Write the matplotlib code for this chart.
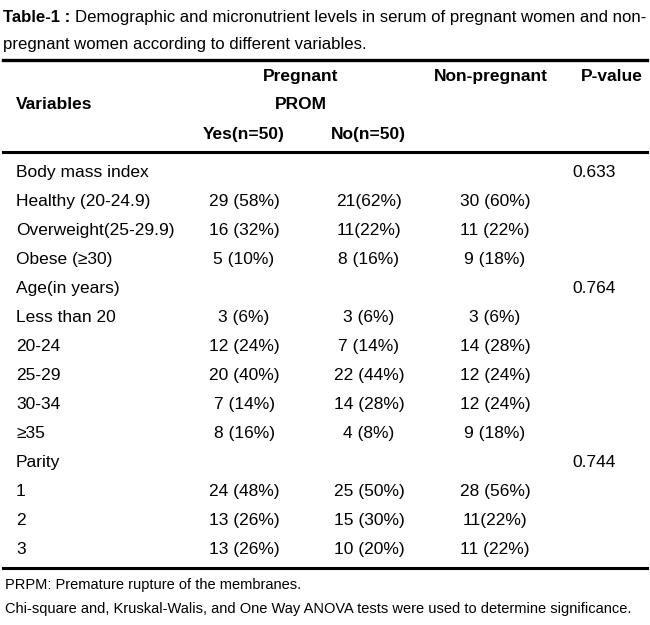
import matplotlib.pyplot as plt
from matplotlib.lines import Line2D

plt.rcParams["font.family"] = ["Liberation Sans", "DejaVu Sans"]

row_labels = [
    "Body mass index", "Healthy (20-24.9)", "Overweight(25-29.9)", "Obese (≥30)",
    "Age(in years)", "Less than 20", "20-24", "25-29", "30-34", "≥35",
    "Parity", "1", "2", "3",
]
prom_yes = ["", "29 (58%)", "16 (32%)", "5 (10%)", "", "3 (6%)", "12 (24%)",
            "20 (40%)", "7 (14%)", "8 (16%)", "", "24 (48%)", "13 (26%)", "13 (26%)"]
prom_no = ["", "21(62%)", "11(22%)", "8 (16%)", "", "3 (6%)", "7 (14%)",
           "22 (44%)", "14 (28%)", "4 (8%)", "", "25 (50%)", "15 (30%)", "10 (20%)"]
non_pregnant = ["", "30 (60%)", "11 (22%)", "9 (18%)", "", "3 (6%)", "14 (28%)",
                "12 (24%)", "12 (24%)", "9 (18%)", "", "28 (56%)", "11(22%)", "11 (22%)"]
p_values = ["0.633", "", "", "", "0.764", "", "", "", "", "", "0.744", "", "", ""]

title_bold = "Table-1 : "
title_rest = ("Demographic and micronutrient levels in serum of pregnant women and non-",
              "pregnant women according to different variables.")
footnotes = ["PRPM: Premature rupture of the membranes.",
             "Chi-square and, Kruskal-Walis, and One Way ANOVA tests were used to determine significance."]

W, H = 650, 625
fig = plt.figure(figsize=(W / 100, H / 100), dpi=100)
ax = fig.add_axes([0, 0, 1, 1])
ax.set_xlim(0, W)
ax.set_ylim(H, 0)
ax.axis("off")
renderer = fig.canvas.get_renderer()


def width_px(t):
    return t.get_window_extent(renderer).width


fs = 12.5
va = "center_baseline"

# title, line 1 sized so it runs to the right edge
tb = ax.text(3, 16, title_bold, fontsize=fs, fontweight="bold", va=va, ha="left")
tr = ax.text(0, 16, title_rest[0], fontsize=fs, va=va, ha="left")
k = 642 / (width_px(tb) + width_px(tr))
tfs = fs * k
tb.set_fontsize(tfs)
tr.set_fontsize(tfs)
tr.set_x(3 + width_px(tb))
ax.text(3, 43, title_rest[1], fontsize=tfs, va=va, ha="left")

# rules
for y, lw in [(60, 2.4), (152, 2.2), (568, 2.2)]:
    ax.add_line(Line2D([3, 647], [y, y], color="black", lw=lw))

# header
hdr = dict(fontsize=fs, fontweight="bold", va=va)
ax.text(301, 75, "Pregnant", ha="center", **hdr)
ax.text(491, 75, "Non-pregnant", ha="center", **hdr)
ax.text(612, 75, "P-value", ha="center", **hdr)
ax.text(16, 103, "Variables", ha="left", **hdr)
ax.text(301, 103, "PROM", ha="center", **hdr)
ax.text(244, 133, "Yes(n=50)", ha="center", **hdr)
ax.text(368, 133, "No(n=50)", ha="center", **hdr)

# body rows
y0, dy = 171, 29.0
for i, lab in enumerate(row_labels):
    y = y0 + i * dy
    ax.text(16, y, lab, fontsize=fs, va=va, ha="left")
    ax.text(244, y, prom_yes[i], fontsize=fs, va=va, ha="center")
    ax.text(369, y, prom_no[i], fontsize=fs, va=va, ha="center")
    ax.text(495, y, non_pregnant[i], fontsize=fs, va=va, ha="center")
    ax.text(594, y, p_values[i], fontsize=fs, va=va, ha="center")

# footnotes, sized to the width of the reference
f1 = ax.text(5, 583, footnotes[0], fontsize=fs, va=va, ha="left")
f2 = ax.text(5, 607, footnotes[1], fontsize=fs, va=va, ha="left")
ffs = fs * 625 / width_px(f2)
f1.set_fontsize(ffs)
f2.set_fontsize(ffs)

fig.savefig("out.png", dpi=100)
